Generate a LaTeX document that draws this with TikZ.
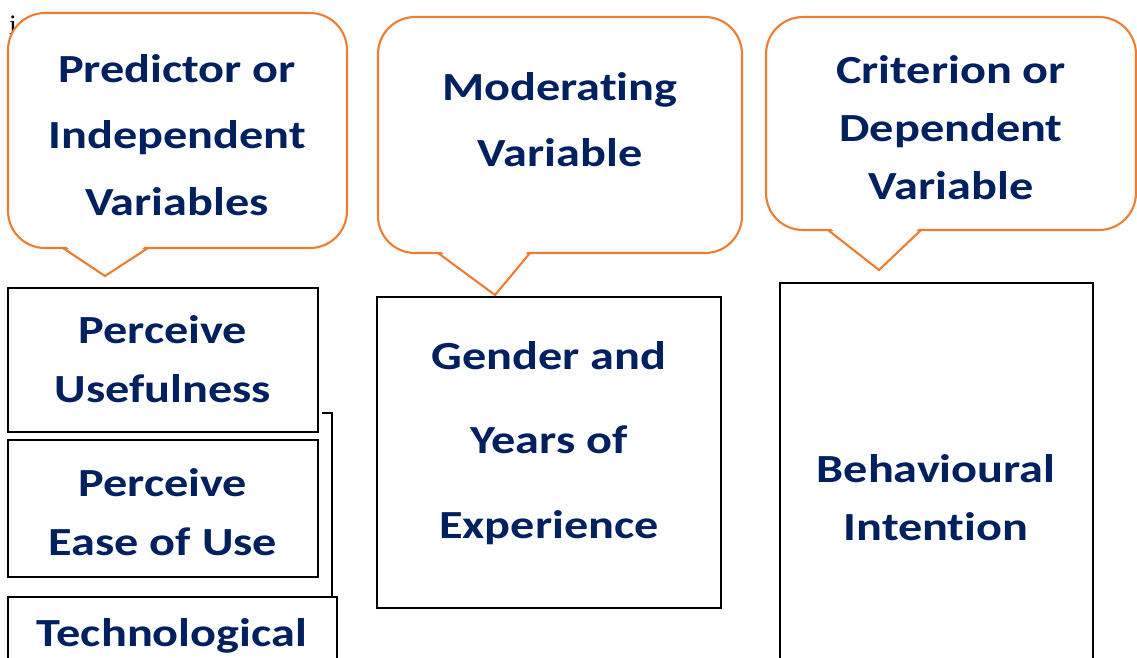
\documentclass[tikz,border=0pt]{standalone}
\usepackage{fontspec}
\setmainfont{Carlito}[FakeStretch=1.21, RawFeature=-liga]
\newfontfamily\strayfont{Liberation Serif}
\usepackage{tikz}
\usetikzlibrary{positioning,calc}

\definecolor{varnavy}{HTML}{002060}
\definecolor{calloutorange}{HTML}{ED7D31}

\tikzset{
    callbox/.style={draw=calloutorange, line width=1.2pt, fill=white, rounded corners=21pt, inner sep=0pt},
    calltail/.style={draw=calloutorange, line width=1.2pt},
    varbox/.style={draw=black, line width=1.2pt, fill=white, inner sep=0pt},
    vartext/.style={text=varnavy, align=center, inner sep=0pt, font=\bfseries\fontsize{22.7}{#1}\selectfont},
    vartext/.default=33.5,
    bracket/.style={draw=black, line width=1.2pt}
}

\begin{document}
\begin{tikzpicture}[x=0.02cm, y=-0.02cm]
    \useasboundingbox (0,0) rectangle (1137,657);
    \clip (0,0) rectangle (1137,657);
    \fill[white] (0,0) rectangle (1137,657);

    % stray letter behind the first callout
    \node[font=\strayfont\fontsize{16}{18}\selectfont, inner sep=0pt, anchor=base] (stray) at (13,34) {i};

    % callouts
    \node[callbox, minimum width=6.78cm, minimum height=4.70cm] (predcall) at (177.5,130.5) {};
    \node[callbox, minimum width=7.28cm, minimum height=4.72cm] (modcall) at (560,135) {};
    \node[callbox, minimum width=7.40cm, minimum height=4.26cm] (critcall) at (951,123.5) {};

    % tails
    \coordinate (predtailA) at (63,248);  \coordinate (predtip) at (105,276);  \coordinate (predtailB) at (148,248);
    \coordinate (modtailA) at (438,253);  \coordinate (modtip) at (495,295);   \coordinate (modtailB) at (530,253);
    \coordinate (crittailA) at (828,230); \coordinate (crittip) at (879,270);  \coordinate (crittailB) at (921,230);
    \foreach \t in {pred,mod,crit}{
        \fill[white] ($(\t tailA)+(1,-3)$) -- (\t tip) -- ($(\t tailB)+(-1,-3)$) -- cycle;
        \draw[calltail] (\t tailA) -- (\t tip) -- (\t tailB);
    }

    \node[vartext=38] (predtext) at (177,135) {Predictor or\\Independent\\Variables};
    \node[vartext=37.5] (modtext) at (560,120) {Moderating\\Variable};
    \node[vartext=33] (crittext) at (951,128) {Criterion or\\Dependent\\Variable};

    % variable boxes
    \node[varbox, minimum width=6.2cm, minimum height=2.88cm] (pu) at (163,360) {};
    \node[varbox, minimum width=6.2cm, minimum height=2.74cm] (peou) at (163,508.5) {};
    \node[varbox, minimum width=6.58cm, minimum height=2.4cm] (tech) at (172.5,657) {};
    \node[varbox, minimum width=6.88cm, minimum height=6.22cm] (gender) at (549,452.5) {};
    \node[varbox, minimum width=6.26cm, minimum height=8.6cm] (bi) at (936.5,498) {};

    \node[vartext] (putext) at (163,359.5) {Perceive\\Usefulness};
    \node[vartext] (peoutext) at (163,512.5) {Perceive\\Ease of Use};
    \node[vartext] (techtext) at (172,636) {Technological};
    \node[vartext=48] (gendertext) at (549,443) {Gender and\\Years of\\Experience};
    \node[vartext=33] (bitext) at (936,498) {Behavioural\\Intention};

    % bracket from first box down to the third
    \coordinate (brk) at (322,413);
    \coordinate (brkend) at ($(tech.north east)+(-6,0)$);
    \draw[bracket] (brk) -| (brkend);
\end{tikzpicture}
\end{document}
